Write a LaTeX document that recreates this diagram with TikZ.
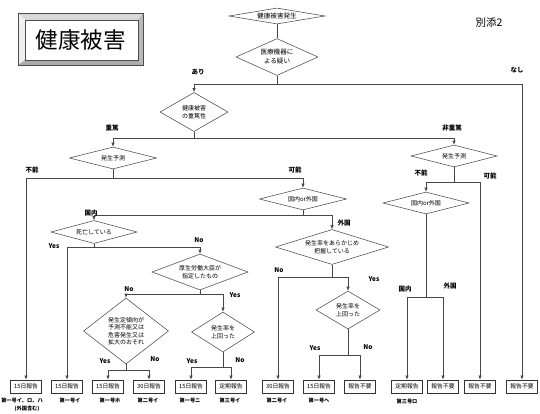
\documentclass[tikz,border=0pt]{standalone}
\usepackage{fontspec}
\newfontfamily\jp{Noto Sans CJK JP}
\usetikzlibrary{shapes.geometric,arrows.meta}
\tikzset{
  ln/.style={draw=black!72, line width=0.6pt},
  arr/.style={ln, -{Latex[length=4pt,width=3.4pt]}},
  diabase/.style={diamond, draw=black!70, line width=0.55pt, inner sep=0pt, aspect=2,
    align=center, font=\jp\fontsize{6}{7.5}\selectfont},
  dia/.style 2 args={diabase, minimum width=#1pt, minimum height=#2pt},
  box/.style={draw=black!80, line width=0.75pt, minimum width=31pt, minimum height=13pt,
    inner sep=0pt, font=\jp\fontsize{5.8}{6}\selectfont},
  lab/.style={inner sep=0pt, font=\jp\bfseries\fontsize{6.5}{7}\selectfont},
  yn/.style={inner sep=0pt, font=\jp\bfseries\fontsize{6.5}{7}\selectfont},
  ref/.style={inner sep=0pt, align=center, font=\jp\bfseries\fontsize{5.2}{9}\selectfont},
}
\begin{document}
\begin{tikzpicture}[x=1pt,y=-1pt]
\useasboundingbox (0,0) rectangle (540,413);
% title bevel box
\fill[gray!30] (18,13) -- (143,13) -- (138,20) -- (25,20) -- cycle;
\fill[gray!12] (18,13) -- (25,20) -- (25,60) -- (18,65) -- cycle;
\fill[gray!65] (18,65) -- (143,65) -- (138,60) -- (25,60) -- cycle;
\fill[gray!55] (143,13) -- (143,65) -- (138,60) -- (138,20) -- cycle;
\draw[black!70, line width=0.5pt] (18,13) rectangle (143,65);
\draw[black!70, line width=0.5pt] (25,20) rectangle (138,60);
\node[inner sep=0pt, font=\jp\fontsize{22.5}{24}\selectfont] (title) at (80.5,40) {健康被害};
\node[inner sep=0pt, font=\jp\fontsize{10.5}{12}\selectfont] (annex) at (489,23) {別添2};

% diamonds
\node[dia={96}{16}, aspect=6, font=\jp\fontsize{6.6}{7.5}\selectfont] (d1) at (277,16) {健康被害発生};
\node[dia={82}{37}, font=\jp\fontsize{6.6}{9}\selectfont] (d2) at (277,57) {医療機器に\\よる疑い};
\node[dia={68}{39}] (d3) at (194,112) {健康被害\\の重篤性};
\node[dia={87}{22}, aspect=4] (d4) at (113,158) {発生予測};
\node[dia={86}{22}, aspect=4] (d5) at (454,156) {発生予測};
\node[dia={87}{22}, aspect=4] (d6) at (303,199) {国内or外国};
\node[dia={86}{23}, aspect=4] (d7) at (94,232) {死亡している};
\node[dia={96}{36}] (d8) at (200,272) {厚生労働大臣が\\指定したもの};
\node[dia={85}{66}, aspect=1.3] (d9) at (126,331) {発生定傾向が\\予測不能又は\\危害発生又は\\拡大のおそれ};
\node[dia={63}{40}, aspect=1.6] (d10) at (223,332) {発生率を\\上回った};
\node[dia={113}{35}, aspect=3] (d11) at (332,247) {発生率をあらかじめ\\把握している};
\node[dia={64}{38}, aspect=1.7] (d12) at (348,310) {発生率を\\上回った};
\node[dia={86}{22}, aspect=4] (d13) at (426,203) {国内or外国};

% boxes
\node[box] (b1) at (26,386.5) {15日報告};
\node[box] (b2) at (67,386.5) {15日報告};
\node[box] (b3) at (108,386.5) {15日報告};
\node[box] (b4) at (149,386.5) {30日報告};
\node[box] (b5) at (191,386.5) {15日報告};
\node[box] (b6) at (231,386.5) {定期報告};
\node[box] (b7) at (278,386.5) {30日報告};
\node[box] (b8) at (319,386.5) {15日報告};
\node[box] (b9) at (360,386.5) {報告不要};
\node[box] (b10) at (407,386.5) {定期報告};
\node[box] (b11) at (443,386.5) {報告不要};
\node[box] (b12) at (480,386.5) {報告不要};
\node[box] (b13) at (522,386.5) {報告不要};

% references under boxes
\node[ref] (r1) at (22,400) {第一号イ、ロ、ハ};
\node[ref] (r1b) at (27,409) {(外国含む)};
\node[ref] (r2) at (70,400) {第一号イ};
\node[ref] (r3) at (110,400) {第一号ホ};
\node[ref] (r4) at (148,400) {第二号イ};
\node[ref] (r5) at (190,400) {第一号ニ};
\node[ref] (r6) at (230,400) {第三号イ};
\node[ref] (r7) at (277,400) {第二号イ};
\node[ref] (r8) at (319,400) {第一号ヘ};
\node[ref] (r10) at (407,401) {第三号ロ};

% junctions
\coordinate (j1) at (277,84);
\coordinate (j2) at (194,138);
\coordinate (j3) at (113,178);
\coordinate (j4) at (303,215);
\coordinate (j5) at (94,247);
\coordinate (j6) at (200,294);
\coordinate (j7) at (126,370);
\coordinate (j8) at (223,367);
\coordinate (j9) at (332,277);
\coordinate (j10) at (348,355);
\coordinate (j11) at (454,182);
\coordinate (j12) at (426,297);

% connectors
\draw[ln] (d1) -- (d2);
\draw[ln] (d2.south) -- (j1);
\draw[arr] (j1) -| (d3.north);
\draw[arr] (j1) -| (b13.north);
\draw[ln] (d3.south) -- (j2);
\draw[arr] (j2) -| (d4.north);
\draw[arr] (j2) -| (d5.north);
\draw[ln] (d4.south) -- (j3);
\draw[arr] (j3) -| (b1.north);
\draw[arr] (j3) -| (d6.north);
\draw[ln] (d6.south) -- (j4);
\draw[arr] (j4) -| (d7.north);
\draw[arr] (j4) -| (d11.north);
\draw[ln] (d7.south) -- (j5);
\draw[arr] (j5) -| (b2.north);
\draw[arr] (j5) -| (d8.north);
\draw[ln] (d8.south) -- (j6);
\draw[arr] (j6) -| (d9.north);
\draw[arr] (j6) -| (d10.north);
\draw[ln] (d9.south) -- (j7);
\draw[arr] (j7) -| (b3.north);
\draw[arr] (j7) -| (b4.north);
\draw[ln] (d10.south) -- (j8);
\draw[arr] (j8) -| (b5.north);
\draw[arr] (j8) -| (b6.north);
\draw[ln] (d11.south) -- (j9);
\draw[arr] (j9) -| (b7.north);
\draw[arr] (j9) -| (d12.north);
\draw[ln] (d12.south) -- (j10);
\draw[arr] (j10) -| (b8.north);
\draw[arr] (j10) -| (b9.north);
\draw[ln] (d5.south) -- (j11);
\draw[arr] (j11) -| (d13.north);
\draw[arr] (j11) -| (b12.north);
\draw[ln] (d13.south) -- (j12);
\draw[arr] (j12) -| (b10.north);
\draw[arr] (j12) -| (b11.north);

% branch labels
\node[lab] (l1) at (198,72) {あり};
\node[lab] (l2) at (517,70) {なし};
\node[lab] (l3) at (112,128) {重篤};
\node[lab] (l4) at (452,128) {非重篤};
\node[lab] (l5) at (32,170) {不能};
\node[lab] (l6) at (295,170) {可能};
\node[lab] (l7) at (421,173) {不能};
\node[lab] (l8) at (490,176) {可能};
\node[lab] (l9) at (91,213) {国内};
\node[lab] (l10) at (344,223) {外国};
\node[lab] (l11) at (405,289) {国内};
\node[lab] (l12) at (450,286) {外国};
\node[yn] (y1) at (54,246) {Yes};
\node[yn] (n1) at (199,240) {No};
\node[yn] (n2) at (129,289) {No};
\node[yn] (y2) at (235,295) {Yes};
\node[yn] (y3) at (105,361) {Yes};
\node[yn] (n3) at (155,359) {No};
\node[yn] (y4) at (192,361) {Yes};
\node[yn] (n4) at (240,360) {No};
\node[yn] (n5) at (279,270) {No};
\node[yn] (y5) at (374,279) {Yes};
\node[yn] (y6) at (315,348) {Yes};
\node[yn] (n6) at (368,347) {No};
\end{tikzpicture}
\end{document}
